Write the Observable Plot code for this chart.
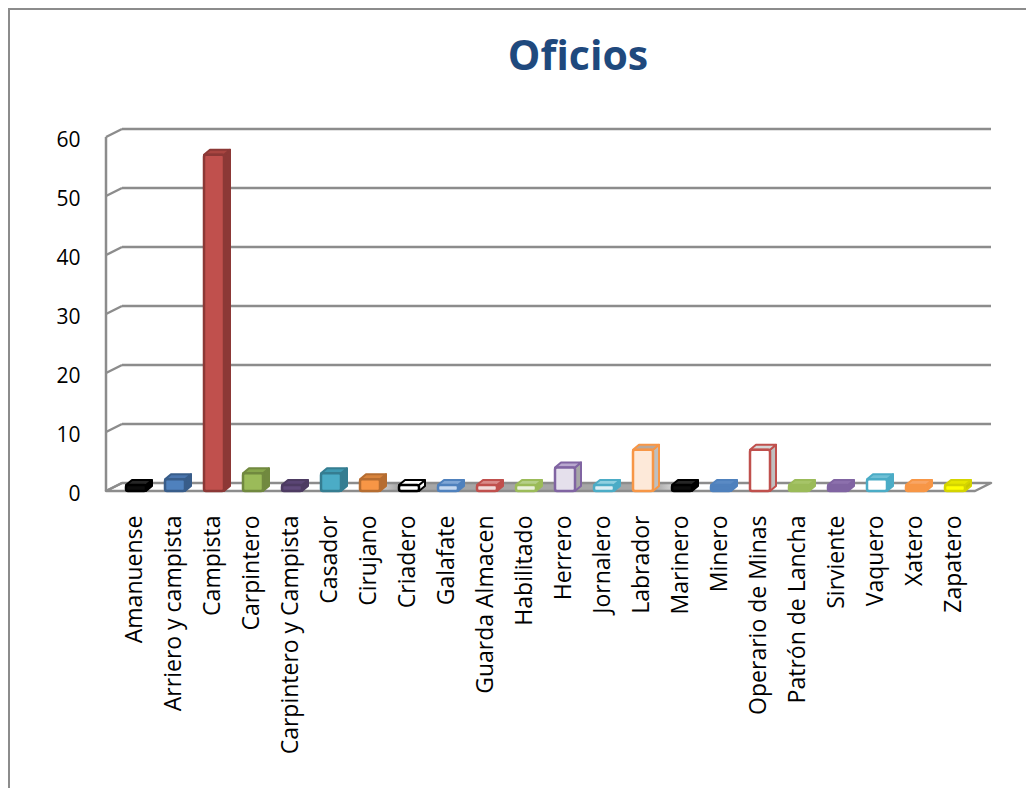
<!DOCTYPE html>
<html>
<head>
<meta charset="utf-8">
<script src="https://cdn.jsdelivr.net/npm/d3@7"></script>
<script src="https://cdn.jsdelivr.net/npm/@observablehq/plot@0.6"></script>
<style>
  html, body { margin: 0; padding: 0; background: #fff; }
  #wrap { position: relative; width: 1026px; height: 788px; overflow: hidden; font-family: "Open Sans", sans-serif; }
  #frame { position: absolute; left: 8px; top: 8px; width: 1030px; height: 800px; border-left: 2px solid #8c8c8c; border-top: 2px solid #8c8c8c; }
  #title { position: absolute; left: 428px; width: 300px; top: 34px; text-align: center; font-size: 41px; line-height: 1; font-weight: 700; color: #1f497d; }
  #chart { position: absolute; left: 0; top: 0; }
</style>
</head>
<body>
<div id="wrap">
  <div id="frame"></div>
  <div id="title">Oficios</div>
  <div id="chart"></div>
</div>
<script>
const categories = ["Amanuense","Arriero y campista","Campista","Carpintero","Carpintero y Campista","Casador","Cirujano","Criadero","Galafate","Guarda Almacen","Habilitado","Herrero","Jornalero","Labrador","Marinero","Minero","Operario de Minas","Patrón de Lancha","Sirviente","Vaquero","Xatero","Zapatero"];
const values = [1,2,57,3,1,3,2,1,1,1,1,4,1,7,1,1,7,1,1,2,1,1];
const yTicks = [0,10,20,30,40,50,60];

// styling palettes (per bar)
const fronts = ["#0d0d0d","#4f81bd","#c0504d","#9bbb59","#604a7b","#4bacc6","#f79646","#ffffff","#c6d9f1","#f2dcdb","#ebf1de","#e5e0ec","#dbeef4","#fde9d9","#0d0d0d","#4f81bd","#ffffff","#9bbb59","#8064a2","#ffffff","#f79646","#ffff00"];
const strokes = ["#000000","#385d8a","#8c3836","#71893f","#4d3b62","#357d91","#b66d31","#000000","#4f81bd","#c0504d","#9bbb59","#8064a2","#4bacc6","#f79646","#000000","#4f81bd","#c0504d","#9bbb59","#8064a2","#4bacc6","#f79646","#d4d400"];
const tops = ["#262626","#4a75ad","#a94541","#87a64c","#5a4574","#3f9ab2","#d8843d","#ffffff","#7fa6d6","#d98a88","#b5cf88","#b9a8cf","#8fd0e0","#b8a89c","#262626","#5a8ac4","#d6d6d6","#a6c468","#8c70ad","#6fc0d6","#f8a565","#e6e600"];
const sides = ["#000000","#385d8a","#8c3836","#71893f","#4d3b62","#357d91","#b66d31","#ffffff","#4f81bd","#c0504d","#9bbb59","#a6a6a6","#4bacc6","#bfbfbf","#000000","#4f81bd","#bfbfbf","#9bbb59","#8064a2","#4bacc6","#f79646","#c8c800"];

const data = categories.map((c, i) => ({oficio: c, n: values[i], fill: fronts[i], stroke: strokes[i], top: tops[i], side: sides[i]}));

const DX = 6, DY = -5;       // bar depth
const WX = 16, WY = -8;      // wall depth

// 3D walls, floor and back gridlines, drawn from the scales
function walls(index, scales, values, dims) {
  const y = scales.y;
  const L = dims.marginLeft - 15;
  const R = dims.width - dims.marginRight + 6;
  const g = d3.create("svg:g");
  const defs = g.append("defs");
  const grad = defs.append("linearGradient").attr("id", "floorGrad").attr("x1", 0).attr("x2", 1).attr("y1", 0).attr("y2", 0);
  [[0,"#ffffff"],[0.29,"#ffffff"],[0.33,"#a6a6a6"],[0.62,"#a6a6a6"],[0.66,"#ffffff"],[1,"#ffffff"]]
    .forEach(([o, c]) => grad.append("stop").attr("offset", o).attr("stop-color", c));
  const y0 = y(0);
  g.append("path")
    .attr("d", `M${L},${y0}L${R},${y0}L${R + WX},${y0 + WY}L${L + WX},${y0 + WY}Z`)
    .attr("fill", "url(#floorGrad)").attr("stroke", "#8c8c8c").attr("stroke-width", 2.5).attr("stroke-linejoin", "round");
  for (const t of yTicks) {
    if (t > 0) g.append("line").attr("x1", L + WX).attr("x2", R + WX).attr("y1", y(t) + WY).attr("y2", y(t) + WY)
      .attr("stroke", "#8c8c8c").attr("stroke-width", 2.5);
    g.append("line").attr("x1", L).attr("x2", L + WX).attr("y1", y(t)).attr("y2", y(t) + WY)
      .attr("stroke", "#8c8c8c").attr("stroke-width", 2.5);
  }
  g.append("line").attr("x1", L).attr("x2", L).attr("y1", y(60)).attr("y2", y0)
    .attr("stroke", "#8c8c8c").attr("stroke-width", 2.5);
  return g.node();
}

// top and side faces of each bar
function prisms(index, scales) {
  const x = scales.x, y = scales.y;
  const bw = x.bandwidth ? x.bandwidth() : 20;
  const g = d3.create("svg:g");
  data.forEach(d => {
    const x0 = x(d.oficio), x1 = x0 + bw;
    const yt = y(d.n), yb = y(0);
    g.append("path")
      .attr("d", `M${x1},${yt}L${x1 + DX},${yt + DY}L${x1 + DX},${yb + DY}L${x1},${yb}Z`)
      .attr("fill", d.side).attr("stroke", d.stroke).attr("stroke-width", 2).attr("stroke-linejoin", "round");
    g.append("path")
      .attr("d", `M${x0},${yt}L${x1},${yt}L${x1 + DX},${yt + DY}L${x0 + DX},${yt + DY}Z`)
      .attr("fill", d.top).attr("stroke", d.stroke).attr("stroke-width", 2).attr("stroke-linejoin", "round");
  });
  return g.node();
}

const chart = Plot.plot({
  width: 1026,
  height: 788,
  marginTop: 137,
  marginBottom: 297,
  marginLeft: 121,
  marginRight: 57,
  style: { fontFamily: "Open Sans, sans-serif", color: "#000", background: "transparent" },
  x: { domain: categories, paddingInner: 0.49, paddingOuter: 0, label: null },
  y: { domain: [0, 60], label: null },
  color: { type: "identity" },
  marks: [
    walls,
    prisms,
    Plot.barY(data, { x: "oficio", y: "n", fill: "fill", stroke: "stroke", strokeWidth: 2.5, rx: 2 }),
    Plot.axisY(yTicks, { tickSize: 0, tickPadding: 41, dy: 3, label: null }),
    Plot.axisX({ tickSize: 0, tickPadding: 24, tickRotate: -90, dx: -2, label: null })
  ]
});
d3.select(chart).selectAll('[aria-label="y-axis tick label"]').attr("font-size", 21).style("font-size", "21px");
d3.select(chart).selectAll('[aria-label="x-axis tick label"]').attr("font-size", 23).style("font-size", "23px");
document.getElementById("chart").appendChild(chart);
</script>
</body>
</html>
